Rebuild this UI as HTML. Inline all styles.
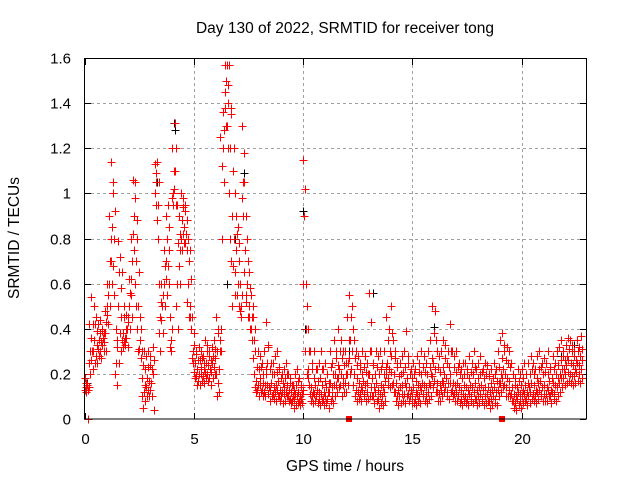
<!DOCTYPE html>
<html><head><meta charset="utf-8"><style>
html,body{margin:0;padding:0;background:#fff;}
svg{display:block;font-family:"Liberation Sans",sans-serif;}
</style></head><body>
<svg id="chart" width="640" height="480" viewBox="0 0 640 480" xmlns="http://www.w3.org/2000/svg">
<text x="345" y="33" font-size="15.5" text-anchor="middle">Day 130 of 2022, SRMTID for receiver tong</text>
<text x="19" y="238" font-size="15.5" text-anchor="middle" transform="rotate(-90 19 238)">SRMTID / TECUs</text>
<text x="345" y="471" font-size="15.5" text-anchor="middle">GPS time / hours</text>
<g id="grid"></g>
<g id="ticks"></g>
<g id="marks" shape-rendering="crispEdges"></g>
<rect x="84.5" y="58.5" width="502" height="360.5" fill="none" stroke="#000" stroke-width="1"/>
</svg>
<script>
const binStep = 0.1;
const xTicks = [0,5,10,15,20];
const yTicks = [0,0.2,0.4,0.6,0.8,1,1.2,1.4,1.6];
const yTickLabels = ["0","0.2","0.4","0.6","0.8","1","1.2","1.4","1.6"];
const redHi = [
0.18,0.15,0.42,0.54,0.5,0.45,0.42,0.44,0.4,0.48,
0.6,0.9,1.14,1.05,0.4,0.79,0.72,0.65,0.45,0.46,
0.62,0.8,1.06,1.05,0.8,0.45,0.3,0.3,0.28,0.3,
0.28,0.32,1.13,1.14,0.6,0.6,0.75,0.9,0.95,0.45,
1.2,1.31,0.95,0.9,1.0,0.98,0.95,0.8,0.75,0.45,
0.33,0.3,0.32,0.3,0.28,0.35,0.33,0.3,0.32,0.35,
0.45,0.4,1.25,1.36,1.57,1.57,1.57,1.35,1.2,0.9,
0.85,0.6,1.3,1.05,0.8,0.65,0.55,0.45,0.3,0.3,
0.28,0.25,0.3,0.43,0.32,0.25,0.25,0.28,0.3,0.22,
0.2,0.22,0.25,0.2,0.18,0.15,0.2,0.22,0.18,0.15,
1.15,0.6,0.4,0.3,0.25,0.3,0.22,0.25,0.3,0.22,
0.25,0.2,0.3,0.25,0.35,0.3,0.4,0.35,0.3,0.3,
0.45,0.55,0.5,0.35,0.3,0.28,0.25,0.3,0.28,0.25,
0.56,0.3,0.25,0.3,0.28,0.3,0.25,0.3,0.45,0.4,
0.5,0.35,0.3,0.25,0.25,0.28,0.3,0.39,0.25,0.22,
0.25,0.22,0.28,0.25,0.3,0.28,0.25,0.3,0.35,0.5,
0.48,0.3,0.28,0.3,0.35,0.33,0.3,0.42,0.3,0.28,
0.3,0.25,0.22,0.25,0.25,0.22,0.28,0.25,0.3,0.22,
0.25,0.28,0.22,0.25,0.24,0.2,0.22,0.25,0.22,0.3,
0.35,0.38,0.33,0.32,0.3,0.25,0.2,0.18,0.22,0.2,
0.22,0.25,0.2,0.25,0.28,0.25,0.22,0.28,0.3,0.25,
0.27,0.25,0.3,0.22,0.28,0.25,0.3,0.32,0.35,0.3,
0.33,0.36,0.35,0.33,0.3,0.35,0.32,0.37];
const redQ3 = [
0.16,0.14,0.36,0.42,0.42,0.39,0.38,0.39,0.38,0.43,
0.55,0.8,1.0,0.92,0.32,0.65,0.58,0.5,0.4,0.43,
0.56,0.7,0.98,0.88,0.65,0.4,0.24,0.22,0.23,0.24,
0.22,0.26,1.09,1.05,0.52,0.55,0.68,0.8,0.85,0.4,
1.1,1.2,0.78,0.82,0.94,0.92,0.88,0.7,0.62,0.38,
0.29,0.26,0.26,0.27,0.25,0.3,0.28,0.26,0.28,0.31,
0.38,0.3,0.8,1.28,1.5,1.48,1.38,1.1,1.0,0.82,
0.78,0.55,1.18,0.9,0.7,0.58,0.5,0.4,0.23,0.22,
0.23,0.2,0.22,0.33,0.22,0.2,0.2,0.21,0.23,0.18,
0.16,0.18,0.2,0.16,0.15,0.13,0.15,0.17,0.14,0.13,
1.02,0.5,0.3,0.22,0.18,0.22,0.17,0.18,0.22,0.17,
0.2,0.16,0.23,0.2,0.27,0.24,0.3,0.27,0.24,0.25,
0.35,0.45,0.4,0.27,0.24,0.22,0.2,0.23,0.21,0.2,
0.43,0.24,0.2,0.23,0.2,0.22,0.2,0.23,0.35,0.3,
0.38,0.27,0.23,0.19,0.2,0.21,0.23,0.28,0.2,0.18,
0.2,0.17,0.21,0.2,0.23,0.21,0.2,0.23,0.27,0.38,
0.35,0.23,0.21,0.23,0.27,0.25,0.23,0.3,0.23,0.21,
0.23,0.2,0.18,0.2,0.2,0.18,0.21,0.2,0.23,0.18,
0.2,0.21,0.18,0.2,0.19,0.16,0.18,0.2,0.17,0.23,
0.27,0.3,0.26,0.25,0.23,0.2,0.15,0.14,0.17,0.15,
0.18,0.2,0.16,0.2,0.22,0.2,0.18,0.22,0.23,0.2,
0.21,0.2,0.23,0.18,0.22,0.2,0.24,0.26,0.28,0.26,
0.28,0.31,0.3,0.28,0.26,0.3,0.28,0.31];
const redMid = [
0.14,0.13,0.3,0.3,0.35,0.33,0.35,0.34,0.36,0.38,
0.5,0.7,0.85,0.8,0.25,0.5,0.45,0.38,0.36,0.4,
0.5,0.62,0.9,0.7,0.5,0.35,0.18,0.15,0.18,0.17,
0.16,0.2,1.05,0.95,0.45,0.5,0.6,0.7,0.75,0.35,
1.0,1.1,0.6,0.75,0.88,0.85,0.82,0.6,0.5,0.3,
0.25,0.22,0.2,0.23,0.22,0.25,0.24,0.22,0.25,0.27,
0.3,0.22,0.4,1.2,1.45,1.4,1.2,0.9,0.8,0.75,
0.7,0.5,1.05,0.75,0.6,0.5,0.45,0.35,0.17,0.15,
0.18,0.16,0.15,0.25,0.14,0.16,0.14,0.15,0.17,0.13,
0.12,0.14,0.15,0.13,0.12,0.1,0.11,0.12,0.1,0.11,
0.9,0.4,0.22,0.14,0.12,0.15,0.13,0.12,0.15,0.12,
0.14,0.12,0.16,0.14,0.2,0.18,0.22,0.2,0.18,0.2,
0.25,0.35,0.3,0.2,0.18,0.16,0.14,0.17,0.15,0.16,
0.3,0.18,0.14,0.16,0.13,0.15,0.14,0.17,0.25,0.22,
0.28,0.2,0.16,0.13,0.14,0.15,0.16,0.18,0.14,0.13,
0.14,0.12,0.15,0.14,0.16,0.15,0.14,0.16,0.2,0.25,
0.22,0.16,0.15,0.17,0.2,0.18,0.16,0.2,0.16,0.15,
0.16,0.14,0.13,0.15,0.14,0.13,0.15,0.14,0.16,0.13,
0.14,0.15,0.13,0.14,0.14,0.12,0.13,0.14,0.12,0.16,
0.2,0.22,0.2,0.18,0.17,0.14,0.11,0.1,0.12,0.11,
0.13,0.15,0.12,0.14,0.16,0.15,0.13,0.16,0.17,0.14,
0.15,0.14,0.17,0.13,0.16,0.15,0.18,0.2,0.22,0.22,
0.24,0.26,0.25,0.24,0.22,0.25,0.24,0.26];
const redQ1 = [
0.13,0.15,0.25,0.26,0.3,0.28,0.31,0.3,0.33,0.34,
0.46,0.6,0.7,0.68,0.2,0.35,0.38,0.35,0.34,0.36,
0.45,0.55,0.82,0.6,0.4,0.31,0.1,0.12,0.14,0.13,
0.13,0.1,1.0,0.88,0.38,0.44,0.55,0.62,0.68,0.32,
0.98,1.02,0.5,0.68,0.8,0.82,0.78,0.52,0.45,0.27,
0.21,0.19,0.17,0.2,0.19,0.21,0.2,0.18,0.21,0.23,
0.2,0.16,0.35,1.12,1.38,1.3,1.0,0.7,0.68,0.65,
0.6,0.48,0.98,0.65,0.52,0.45,0.4,0.27,0.14,0.13,
0.15,0.13,0.12,0.2,0.11,0.13,0.11,0.12,0.13,0.1,
0.1,0.11,0.12,0.1,0.09,0.08,0.09,0.1,0.08,0.09,
0.6,0.3,0.18,0.11,0.1,0.11,0.1,0.09,0.11,0.09,
0.1,0.09,0.12,0.1,0.15,0.15,0.18,0.15,0.15,0.16,
0.2,0.27,0.22,0.15,0.13,0.12,0.11,0.13,0.11,0.12,
0.2,0.14,0.1,0.12,0.09,0.11,0.1,0.12,0.2,0.18,
0.21,0.16,0.12,0.1,0.1,0.11,0.11,0.14,0.11,0.1,
0.1,0.09,0.11,0.1,0.13,0.11,0.1,0.12,0.15,0.19,
0.17,0.12,0.11,0.13,0.16,0.14,0.12,0.16,0.13,0.11,
0.12,0.1,0.09,0.11,0.1,0.09,0.11,0.1,0.12,0.09,
0.1,0.11,0.09,0.1,0.11,0.08,0.09,0.1,0.09,0.13,
0.16,0.18,0.15,0.14,0.13,0.11,0.08,0.07,0.09,0.08,
0.1,0.11,0.09,0.1,0.12,0.11,0.1,0.12,0.13,0.11,
0.11,0.11,0.13,0.1,0.12,0.11,0.14,0.16,0.18,0.18,
0.2,0.21,0.2,0.19,0.19,0.21,0.2,0.22];
const redLo = [
0.12,0.0,0.2,0.22,0.25,0.25,0.28,0.27,0.3,0.3,
0.42,0.5,0.6,0.55,0.15,0.25,0.3,0.32,0.33,0.32,
0.4,0.45,0.75,0.5,0.3,0.27,0.05,0.08,0.1,0.1,
0.1,0.04,0.95,0.8,0.3,0.38,0.5,0.55,0.6,0.3,
0.95,0.95,0.4,0.6,0.75,0.78,0.75,0.45,0.4,0.25,
0.18,0.15,0.15,0.17,0.16,0.18,0.17,0.15,0.18,0.2,
0.1,0.12,0.3,1.05,1.3,1.2,0.8,0.5,0.55,0.55,
0.5,0.45,0.9,0.55,0.45,0.4,0.35,0.2,0.12,0.1,
0.12,0.1,0.1,0.15,0.08,0.1,0.09,0.08,0.1,0.08,
0.07,0.08,0.1,0.08,0.07,0.05,0.06,0.07,0.06,0.07,
0.3,0.2,0.15,0.08,0.07,0.08,0.07,0.06,0.08,0.06,
0.07,0.05,0.08,0.07,0.1,0.12,0.14,0.1,0.12,0.12,
0.15,0.2,0.15,0.1,0.08,0.09,0.08,0.1,0.08,0.09,
0.1,0.1,0.07,0.08,0.05,0.07,0.06,0.08,0.15,0.14,
0.15,0.12,0.08,0.06,0.07,0.08,0.07,0.1,0.08,0.07,
0.07,0.06,0.08,0.07,0.1,0.08,0.07,0.09,0.1,0.14,
0.12,0.08,0.08,0.1,0.12,0.1,0.09,0.12,0.1,0.08,
0.08,0.07,0.06,0.08,0.07,0.06,0.08,0.07,0.09,0.06,
0.07,0.08,0.06,0.07,0.08,0.05,0.06,0.07,0.06,0.1,
0.12,0.14,0.1,0.1,0.1,0.08,0.05,0.04,0.06,0.05,
0.07,0.08,0.06,0.07,0.09,0.08,0.07,0.09,0.1,0.08,
0.08,0.08,0.1,0.07,0.09,0.08,0.1,0.12,0.14,0.15,
0.16,0.17,0.16,0.15,0.16,0.17,0.16,0.18];
const blackT = [0.1,3.3,4.1,4.15,6.5,6.9,7.3,10.0,10.1,12.1,13.2,14.7,16.0,18.5,21.8,22.4];
const blackV = [0.16,1.05,1.31,1.28,0.6,0.8,1.09,0.92,0.4,0.3,0.56,0.39,0.41,0.08,0.28,0.33];
const zeroSquaresT = [12.1,19.1];

const NS = "http://www.w3.org/2000/svg";
const x0 = 84.5, xPerHour = 21.85, y0 = 419, yPerUnit = 225.6;
function xs(t){ return x0 + t * xPerHour; }
function ys(v){ return y0 - v * yPerUnit; }
function mk(tag, attrs, parent){
  const e = document.createElementNS(NS, tag);
  for (const k in attrs) e.setAttribute(k, attrs[k]);
  parent.appendChild(e);
  return e;
}
const grid = document.getElementById('grid');
const ticks = document.getElementById('ticks');
const marks = document.getElementById('marks');

yTicks.forEach((v, i) => {
  const y = Math.round(ys(v)) + 0.5;
  if (v > 0 && v < 1.6) {
    const g = mk('line', {x1: 85, x2: 586, y1: y, y2: y, stroke: '#a0a0a0', 'stroke-dasharray': '3,3'}, grid);
    
    
  }
  const tk = mk('line', {x1: 85, x2: 91, y1: y, y2: y, stroke: '#000'}, ticks);
  
  
  const tk2 = mk('line', {x1: 580, x2: 586, y1: y, y2: y, stroke: '#000'}, ticks);
  
  
  const lb = mk('text', {x: 71, y: y + 5, 'font-size': 15, 'text-anchor': 'end'}, ticks);
  lb.textContent = yTickLabels[i];
  
  
});
xTicks.forEach(t => {
  const x = Math.round(xs(t)) + 0.5;
  if (t > 0) {
    const g = mk('line', {x1: x, x2: x, y1: 59, y2: 418, stroke: '#a0a0a0', 'stroke-dasharray': '3,3'}, grid);
    
    
  }
  const tk = mk('line', {x1: x, x2: x, y1: 413, y2: 419, stroke: '#000'}, ticks);
  
  
  const tk2 = mk('line', {x1: x, x2: x, y1: 59, y2: 65, stroke: '#000'}, ticks);
  
  
  const lb = mk('text', {x: x, y: 444, 'font-size': 15, 'text-anchor': 'middle'}, ticks);
  lb.textContent = String(t);
  
  
});

function plus(t, v, color, name){
  const x = Math.round(xs(t)) + 0.5, y = Math.round(ys(v)) + 0.5;
  const p = mk('path', {d: `M${x-4},${y}H${x+4}M${x},${y-4}V${y+4}`, stroke: color, 'stroke-width': 1, fill: 'none'}, marks);
  
  
}
blackT.forEach((t, i) => plus(t, blackV[i], '#000', 'black-point'));
redHi.forEach((h, i) => {
  const t = i * binStep + 0.05;
  plus(t - 0.03, h, '#ff0000', 'red-point-high');
  plus(t + 0.04, redQ3[i], '#ff0000', 'red-point-q3');
  plus(t, redMid[i], '#ff0000', 'red-point-mid');
  plus(t - 0.04, redQ1[i], '#ff0000', 'red-point-q1');
  plus(t + 0.02, redLo[i], '#ff0000', 'red-point-low');
});
zeroSquaresT.forEach(t => {
  const s = mk('rect', {x: xs(t) - 3, y: ys(0) - 3, width: 6, height: 6, fill: '#f00'}, marks);
  
  
});
</script>
</body></html>
